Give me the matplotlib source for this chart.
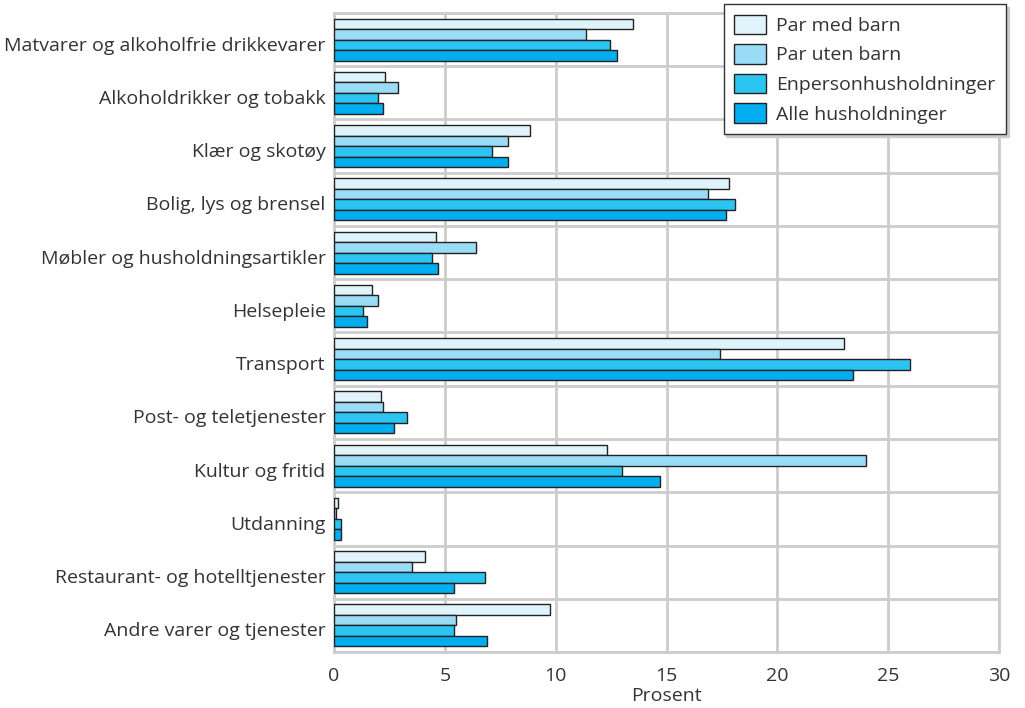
import matplotlib
matplotlib.use('Agg')
import matplotlib.pyplot as plt
import matplotlib.transforms as mtransforms
import numpy as np

plt.rcParams['font.family'] = ['Open Sans', 'DejaVu Sans']

# data (prosent av totalt forbruk)
categories = [
    'Matvarer og alkoholfrie drikkevarer',
    'Alkoholdrikker og tobakk',
    'Klær og skotøy',
    'Bolig, lys og brensel',
    'Møbler og husholdningsartikler',
    'Helsepleie',
    'Transport',
    'Post- og teletjenester',
    'Kultur og fritid',
    'Utdanning',
    'Restaurant- og hotelltjenester',
    'Andre varer og tjenester',
]
series_names = ['Par med barn', 'Par uten barn', 'Enpersonhusholdninger', 'Alle husholdninger']
par_med_barn = [13.5, 2.3, 8.85, 17.8, 4.6, 1.7, 23.0, 2.1, 12.3, 0.2, 4.1, 9.75]
par_uten_barn = [11.35, 2.9, 7.85, 16.85, 6.4, 2.0, 17.4, 2.2, 24.0, 0.1, 3.5, 5.5]
enperson = [12.45, 2.0, 7.15, 18.1, 4.4, 1.3, 26.0, 3.3, 13.0, 0.3, 6.8, 5.4]
alle = [12.75, 2.2, 7.85, 17.7, 4.7, 1.5, 23.4, 2.7, 14.7, 0.3, 5.4, 6.9]
colors = ['#dff3fb', '#9adcf6', '#2cc4f2', '#00aeef']

series = [par_med_barn, par_uten_barn, enperson, alle]
FS = 14
TXT = '#333333'

fig = plt.figure(figsize=(10.25, 7.08), dpi=100)
ax = fig.add_axes([334 / 1025, 1 - 652 / 708, (999 - 334) / 1025, (652 - 13) / 708])

n = len(categories)
y = np.arange(n)
h = 0.197
for i, (vals, col, name) in enumerate(zip(series, colors, series_names)):
    offs = (i - 1.5) * h
    ax.barh(y + offs, vals, height=h, color=col, edgecolor='#222222',
            linewidth=1.0, label=name, zorder=3)

ax.set_ylim(n - 0.5, -0.5)
ax.set_xlim(0, 30)
ax.set_xticks([0, 5, 10, 15, 20, 25, 30])
ax.set_yticks(y)
ax.set_yticklabels(categories)
ax.set_yticks(np.arange(n + 1) - 0.5, minor=True)
ax.tick_params(axis='both', which='both', length=0, labelsize=FS, colors=TXT)
ax.tick_params(axis='x', pad=11)
ax.tick_params(axis='y', pad=6)
# labels sit a little below the group centre in the original
shift = mtransforms.ScaledTranslation(0, -4 / 100, fig.dpi_scale_trans)
for lab in ax.get_yticklabels():
    lab.set_transform(lab.get_transform() + shift)
ax.grid(axis='x', which='major', color='#cccccc', linewidth=2, zorder=0)
ax.grid(axis='y', which='minor', color='#cccccc', linewidth=2, zorder=0)
for s in ax.spines.values():
    s.set_color('#cccccc')
    s.set_linewidth(2)
ax.set_xlabel('Prosent', fontsize=FS, color=TXT, labelpad=1)

leg = ax.legend(loc='upper right', bbox_to_anchor=(1006 / 1025, 1 - 4 / 708),
                bbox_transform=fig.transFigure, fontsize=FS, frameon=True,
                fancybox=False, shadow={'color': '#cccccc', 'alpha': 1},
                edgecolor='#333333', framealpha=1, borderpad=0.55,
                handlelength=1.65, handleheight=1.15, labelspacing=0.48,
                handletextpad=0.5, borderaxespad=0)
for t in leg.get_texts():
    t.set_color(TXT)
leg.get_frame().set_linewidth(1.0)
leg.set_zorder(10)

fig.savefig('out.png', dpi=100)
